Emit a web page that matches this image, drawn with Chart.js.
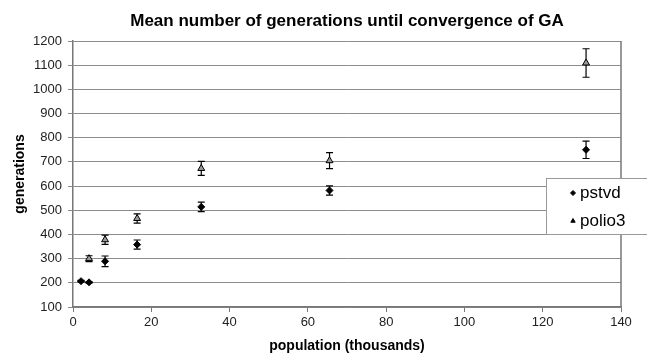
<!DOCTYPE html>
<html>
<head>
<meta charset="utf-8">
<script src="https://cdn.jsdelivr.net/npm/chart.js@4"></script>
<style>
	body { margin: 0; background: #fff; }
	#wrap { width: 647px; height: 355px; position: relative; }
</style>
</head>
<body>
<div id="wrap"><canvas id="myChart"></canvas></div>
<script>
// population in thousands (2^11 .. 2^17 individuals)
var pstvdX = [2.048, 4.096, 8.192, 16.384, 32.768, 65.536, 131.072];
var pstvdMean = [207, 202, 289, 358, 514, 582, 750];
var pstvdErr = [3, 3, 22, 19, 20, 19, 36];

var polio3X = [4.096, 8.192, 16.384, 32.768, 65.536, 131.072];
var polio3Mean = [300, 378, 466, 673, 705, 1109];
var polio3Err = [12, 19, 19, 29, 33, 59];

var seriesNames = ['pstvd', 'polio3'];
var xTicks = [0, 20, 40, 60, 80, 100, 120, 140];
var yTicks = [100, 200, 300, 400, 500, 600, 700, 800, 900, 1000, 1100, 1200];

var chartTitle = 'Mean number of generations until convergence of GA';
var fontFamily = 'Arial, "Liberation Sans", sans-serif';

function toPoints(xs, ys)
{
	var pts = [];
	for (var i = 0; i < xs.length; i++)
	{
		pts.push({x: xs[i], y: ys[i]});
	}
	return pts;
}

Chart.defaults.font.family = fontFamily;

// vertical error bars, drawn under the markers
var errorBars = {
	id: 'errorBars',
	beforeDatasetsDraw: function (chart)
	{
		var ctx = chart.ctx;
		var yScale = chart.scales.y;
		ctx.save();
		ctx.strokeStyle = '#000';
		ctx.lineWidth = 1.2;
		chart.data.datasets.forEach(function (ds, i)
		{
			var meta = chart.getDatasetMeta(i);
			meta.data.forEach(function (pt, j)
			{
				var v = ds.data[j].y;
				var e = ds.errors[j];
				var top = yScale.getPixelForValue(v + e);
				var bot = yScale.getPixelForValue(v - e);
				ctx.beginPath();
				ctx.moveTo(pt.x, top);
				ctx.lineTo(pt.x, bot);
				ctx.moveTo(pt.x - 3.5, top);
				ctx.lineTo(pt.x + 3.5, top);
				ctx.moveTo(pt.x - 3.5, bot);
				ctx.lineTo(pt.x + 3.5, bot);
				ctx.stroke();
			});
		});
		ctx.restore();
	}
};

// title centred over the plot, right edge of the frame, boxed legend
var frameAndLegend = {
	id: 'frameAndLegend',
	afterDraw: function (chart)
	{
		var ctx = chart.ctx;
		var area = chart.chartArea;
		ctx.save();

		ctx.fillStyle = '#000';
		ctx.font = 'bold 17px ' + fontFamily;
		ctx.textAlign = 'center';
		ctx.textBaseline = 'middle';
		ctx.fillText(chartTitle, (area.left + area.right) / 2, 21);

		ctx.strokeStyle = '#777';
		ctx.lineWidth = 1.5;
		ctx.beginPath();
		ctx.moveTo(area.right, area.top);
		ctx.lineTo(area.right, area.bottom);
		ctx.stroke();

		ctx.fillStyle = '#fff';
		ctx.fillRect(546, 178, 110, 56);
		ctx.strokeStyle = '#999';
		ctx.lineWidth = 1;
		ctx.strokeRect(546.5, 178.5, 110, 56);

		ctx.font = '17px ' + fontFamily;
		ctx.textAlign = 'left';
		ctx.textBaseline = 'middle';
		var rows = [193, 221];
		chart.data.datasets.forEach(function (ds, i)
		{
			ctx.fillStyle = '#000';
			ctx.strokeStyle = '#000';
			Chart.helpers.drawPoint(ctx, {
				pointStyle: ds.pointStyle,
				radius: 2.5,
				borderWidth: 1
			}, 573, rows[i]);
			ctx.fillStyle = '#000';
			ctx.fillText(ds.label, 580, rows[i]);
		});
		ctx.restore();
	}
};

var ctx = document.getElementById('myChart');
var myChart = new Chart(ctx, {
	type: 'scatter',
	data: {
		datasets: [
		{
			label: seriesNames[0],
			data: toPoints(pstvdX, pstvdMean),
			errors: pstvdErr,
			pointStyle: 'rectRot',
			pointRadius: 3.5,
			backgroundColor: '#000',
			borderColor: '#000',
			borderWidth: 1
		},
		{
			label: seriesNames[1],
			data: toPoints(polio3X, polio3Mean),
			errors: polio3Err,
			pointStyle: 'triangle',
			pointRadius: 4,
			backgroundColor: '#999',
			borderColor: '#000',
			borderWidth: 1
		}]
	},
	options:
	{
		responsive: true,
		maintainAspectRatio: false,
		animation: false,
		layout: {padding: {left: 0, right: 26, top: 41, bottom: 0}},
		plugins: {
			legend: {display: false},
			tooltip: {enabled: false},
			title: {display: false}
		},
		scales: {
			x: {
				type: 'linear',
				min: xTicks[0],
				max: xTicks[xTicks.length - 1],
				afterBuildTicks: function (scale)
				{
					scale.ticks = xTicks.map(function (v) { return {value: v}; });
				},
				afterFit: function (scale) { scale.height = 48; },
				ticks: {
					color: '#222',
					font: {size: 13},
					padding: 3,
					maxRotation: 0,
					callback: function (v) { return String(v); }
				},
				grid: {drawOnChartArea: false, drawTicks: true, tickLength: 5, color: '#777'},
				border: {color: '#777', width: 1.5},
				title: {
					display: true,
					text: 'population (thousands)',
					color: '#000',
					font: {size: 14, weight: 'bold'},
					padding: {top: 0, bottom: 0}
				}
			},
			y: {
				min: yTicks[0],
				max: yTicks[yTicks.length - 1],
				afterBuildTicks: function (scale)
				{
					scale.ticks = yTicks.map(function (v) { return {value: v}; });
				},
				afterFit: function (scale) { scale.width = 73; },
				ticks: {
					color: '#222',
					font: {size: 13},
					padding: 6,
					callback: function (v) { return String(v); }
				},
				grid: {color: '#8c8c8c', lineWidth: 1, tickLength: 5},
				border: {color: '#777', width: 1.5},
				title: {
					display: true,
					text: 'generations',
					color: '#000',
					font: {size: 14, weight: 'bold'},
					padding: {top: 12, bottom: 0}
				}
			}
		}
	},
	plugins: [errorBars, frameAndLegend]
});
</script>
</body>
</html>
